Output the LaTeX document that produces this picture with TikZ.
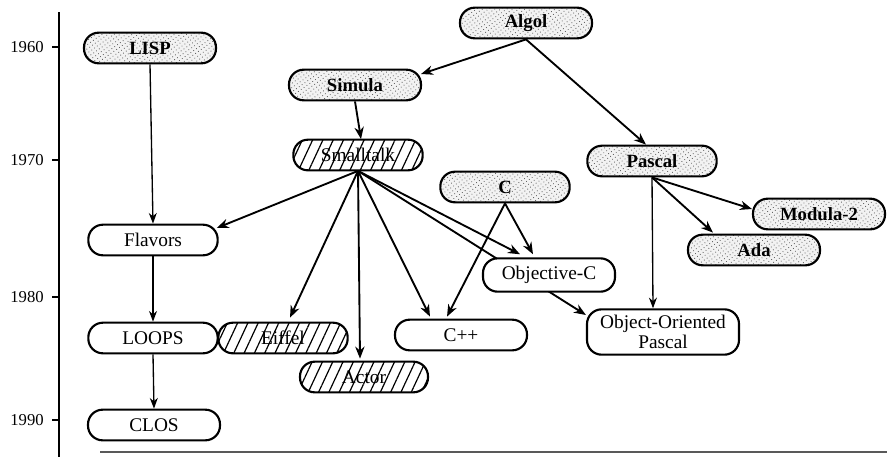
\documentclass[tikz,border=0pt]{standalone}
\usepackage{fontspec}
\setmainfont{Liberation Serif}
\usetikzlibrary{arrows.meta,patterns.meta,backgrounds,calc}
\begin{document}
\begin{tikzpicture}[x=0.75pt,y=-0.75pt,
  langbox/.style={draw, line width=1.6pt, rounded corners=11pt, minimum height=23pt,
    inner sep=2pt, font=\fontsize{14.5}{16}\selectfont, fill=white},
  oldbox/.style={langbox, font=\fontsize{14}{16}\selectfont\bfseries,
    preaction={fill=gray!10}, pattern={Dots[distance=2.6pt,radius=0.45pt,angle=35]}, pattern color=gray!80!black},
  hatchbox/.style={langbox, preaction={fill=white},
    pattern={Lines[angle=65,distance=7pt,line width=0.9pt]}, pattern color=black},
  edge/.style={line width=1.4pt, -{Stealth[length=9pt,width=7pt]}},
  thinedge/.style={line width=1pt, -{Stealth[length=8pt,width=6pt]}},
  yearlbl/.style={anchor=east, font=\fontsize{12.5}{14}\selectfont, inner sep=0pt}
]
\useasboundingbox (0,0) rectangle (887,457);

% axis
\coordinate (axtop) at (59,12);
\coordinate (axbot) at (59,457);
\draw[line width=1pt] (axtop) -- (axbot);
\foreach \yr/\yy in {1960/47,1970/160,1980/297,1990/420}{
  \draw[line width=0.8pt] (52,\yy) -- (59,\yy);
  \node[yearlbl] (y\yr) at (44,\yy) {\yr};
}
\coordinate (baseL) at (100,452);
\coordinate (baseR) at (887,452);
\draw[line width=1.6pt, gray!70!black] (baseL) -- (baseR);

% nodes
\node[oldbox, minimum width=99pt] (lisp) at (150,48) {LISP};
\node[oldbox, minimum width=99pt] (algol) at (526,23) {Algol};
\node[oldbox, minimum width=99pt] (simula) at (355,85) {Simula};
\node[hatchbox, minimum width=97pt] (smalltalk) at (358,155) {Smalltalk};
\node[oldbox, minimum width=97pt] (pascal) at (652,161) {Pascal};
\node[oldbox, minimum width=97pt] (c) at (505,187) {C};
\node[oldbox, minimum width=99pt] (modula) at (819,214) {Modula-2};
\node[oldbox, minimum width=99pt] (ada) at (754,250) {Ada};
\node[langbox, minimum width=97pt] (flavors) at (153,240) {Flavors};
\node[langbox, minimum width=99pt, minimum height=25pt] (objc) at (549,275) {Objective-C};
\node[langbox, minimum width=97pt] (loops) at (153,338) {LOOPS};
\node[hatchbox, minimum width=97pt] (eiffel) at (283,338) {Eiffel};
\node[langbox, minimum width=99pt] (cpp) at (461,335) {C++};
\node[langbox, minimum width=114pt, minimum height=34pt, align=center,
  font=\fontsize{14.5}{14.5}\selectfont] (oop) at (663,332) {Object-Oriented\\Pascal};
\node[hatchbox, minimum width=96pt] (actor) at (364,377) {Actor};
\node[langbox, minimum width=99pt] (clos) at (154,425) {CLOS};

% edges
\begin{pgfonlayer}{background}
\draw[thinedge] (lisp.south) -- (flavors.north);
\draw[thinedge] (flavors.south) -- (loops.north);
\draw[thinedge] (loops.south) -- (clos.north);
\draw[edge] (algol.south) -- ($(simula.east)+(-1,-11)$);
\draw[edge] (algol.south) -- ($(pascal.north)+(-6,0)$);
\draw[edge] (simula.south) -- ($(smalltalk.north)+(3,0)$);
\draw[edge] (smalltalk.south) -- ($(flavors.east)+(-2,-12)$);
\draw[edge] (smalltalk.south) -- ($(eiffel.north)+(7,-4)$);
\draw[edge] (smalltalk.south) -- ($(actor.north)+(-4,-2)$);
\draw[edge] (smalltalk.south) -- ($(cpp.north)+(-31,-2)$);
\draw[edge] (smalltalk.south) -- ($(objc.north)+(-29,-3)$);
\draw[edge] (smalltalk.south) -- ($(oop.west)+(0,-17)$);
\draw[edge] (c.south) -- ($(objc.north)+(-16,-3)$);
\draw[edge] (c.south) -- ($(cpp.north)+(-14,-2)$);
\draw[thinedge] (pascal.south) -- ($(oop.north)+(-10,0)$);
\draw[edge] (pascal.south) -- ($(modula.west)+(0,-5)$);
\draw[edge] (pascal.south) -- ($(ada.north)+(-41,-1)$);
\end{pgfonlayer}
\end{tikzpicture}
\end{document}
